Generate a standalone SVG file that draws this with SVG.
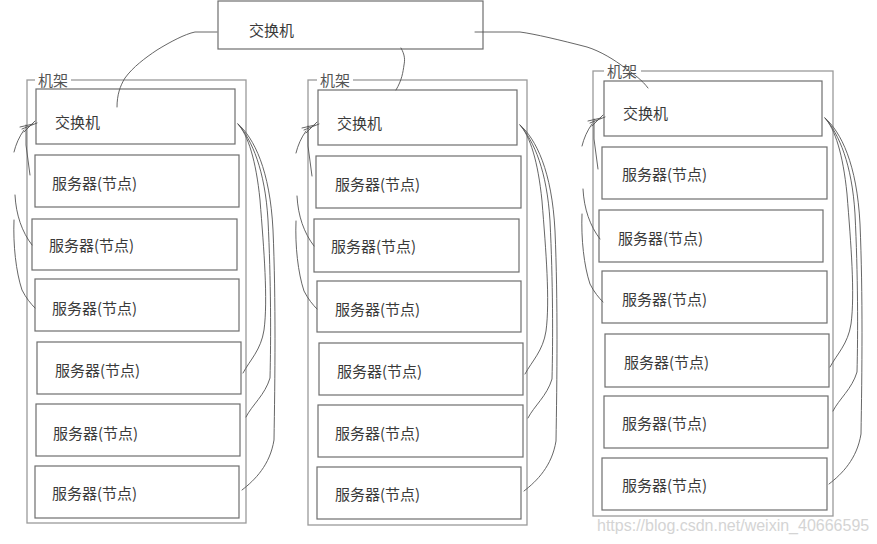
<svg xmlns="http://www.w3.org/2000/svg" width="877" height="544" viewBox="0 0 877 544">
<style>
.bg{fill:#fff}
.rack{fill:none;stroke:#9a9a9a;stroke-width:1.3}
.box{fill:#fff;stroke:#6e6e6e;stroke-width:1.2}
.t{font-family:"Noto Sans CJK SC","Noto Sans",sans-serif;font-size:15px;fill:#3a3a3a}
.lbl{font-family:"Noto Sans CJK SC","Noto Sans",sans-serif;font-size:15px;fill:#555}
.w{fill:none;stroke:#555;stroke-width:0.9;stroke-linecap:round}
.wm{font-family:"Liberation Sans",Arial,sans-serif;font-size:16px;fill:#d4d4d4}
</style>
<defs>
<g id="leftWires">
<path class="w" d="M37,123 L22,129 M35,121 L24,132 M33,124 L20,127"/>
<path class="w" d="M24,130 C19,137 16,144 14,152"/>
<path class="w" d="M26,125 L26,145 C27,155 29,165 30,175"/>
<path class="w" d="M15,195 C16,215 22,232 32,245"/>
<path class="w" d="M14,220 C13,245 16,272 22,290 C26,298 31,304 35,308"/>
</g>
<g id="rightWires">
<path class="w" d="M238,124 C248,135 256,160 260,200 C264,250 268,300 264,330 C261,350 250,360 243,373"/>
<path class="w" d="M238,124 C252,140 265,170 268,220 C271,280 271,340 270,378 C265,395 252,405 246,417"/>
<path class="w" d="M238,124 C254,138 270,170 273,230 C276,300 275,380 274,440 C270,465 255,480 242,490"/>
</g>
</defs>
<rect class="bg" x="0" y="0" width="877" height="544"/>

<g id="core-switch">
<rect class="box" x="218" y="1" width="265" height="48"/>
<text class="t" x="249" y="36">交换机</text>
</g>

<g id="rack1">
<rect class="rack" x="27" y="80" width="219" height="443"/>
<rect class="bg" x="35" y="72" width="36" height="16"/>
<text class="lbl" x="38" y="85.5">机架</text>
</g>
<g id="rack1-switch"><rect class="box" x="36" y="89" width="199" height="55"/><text class="t" x="55" y="127.5">交换机</text></g>
<g id="rack1-server1"><rect class="box" x="35" y="155" width="204" height="52"/><text class="t" x="52" y="188.5">服务器(节点)</text></g>
<g id="rack1-server2"><rect class="box" x="32" y="219" width="205" height="51"/><text class="t" x="49" y="250.5">服务器(节点)</text></g>
<g id="rack1-server3"><rect class="box" x="35" y="279" width="204" height="52"/><text class="t" x="52" y="313.5">服务器(节点)</text></g>
<g id="rack1-server4"><rect class="box" x="37" y="342" width="204" height="52"/><text class="t" x="55" y="375.5">服务器(节点)</text></g>
<g id="rack1-server5"><rect class="box" x="36" y="404" width="204" height="52"/><text class="t" x="53" y="438.5">服务器(节点)</text></g>
<g id="rack1-server6"><rect class="box" x="35" y="466" width="204" height="52"/><text class="t" x="52" y="498.5">服务器(节点)</text></g>

<g id="rack2">
<rect class="rack" x="308" y="80" width="219" height="445"/>
<rect class="bg" x="317" y="72" width="36" height="16"/>
<text class="lbl" x="320" y="85.5">机架</text>
</g>
<g id="rack2-switch"><rect class="box" x="318" y="90" width="199" height="55"/><text class="t" x="337" y="128.5">交换机</text></g>
<g id="rack2-server1"><rect class="box" x="316" y="156" width="205" height="52"/><text class="t" x="335" y="189.5">服务器(节点)</text></g>
<g id="rack2-server2"><rect class="box" x="314" y="219" width="205" height="53"/><text class="t" x="331" y="251.5">服务器(节点)</text></g>
<g id="rack2-server3"><rect class="box" x="317" y="281" width="204" height="51"/><text class="t" x="335" y="314.5">服务器(节点)</text></g>
<g id="rack2-server4"><rect class="box" x="319" y="343" width="204" height="52"/><text class="t" x="337" y="376.5">服务器(节点)</text></g>
<g id="rack2-server5"><rect class="box" x="318" y="405" width="205" height="52"/><text class="t" x="335" y="438.5">服务器(节点)</text></g>
<g id="rack2-server6"><rect class="box" x="317" y="467" width="204" height="52"/><text class="t" x="335" y="499.5">服务器(节点)</text></g>

<g id="rack3">
<rect class="rack" x="593" y="71" width="240" height="445"/>
<rect class="bg" x="604" y="63" width="37" height="16"/>
<text class="lbl" x="607" y="76.5">机架</text>
</g>
<g id="rack3-switch"><rect class="box" x="604" y="81" width="218" height="55"/><text class="t" x="623" y="118.5">交换机</text></g>
<g id="rack3-server1"><rect class="box" x="602" y="147" width="225" height="52"/><text class="t" x="622" y="179.5">服务器(节点)</text></g>
<g id="rack3-server2"><rect class="box" x="599" y="210" width="224" height="52"/><text class="t" x="618" y="243.5">服务器(节点)</text></g>
<g id="rack3-server3"><rect class="box" x="602" y="271" width="225" height="52"/><text class="t" x="622" y="304.5">服务器(节点)</text></g>
<g id="rack3-server4"><rect class="box" x="605" y="334" width="224" height="53"/><text class="t" x="624" y="367.5">服务器(节点)</text></g>
<g id="rack3-server5"><rect class="box" x="604" y="396" width="224" height="52"/><text class="t" x="622" y="428.5">服务器(节点)</text></g>
<g id="rack3-server6"><rect class="box" x="602" y="458" width="225" height="52"/><text class="t" x="622" y="490.5">服务器(节点)</text></g>

<g id="connectors">
<path class="w" d="M217,32 L195,32 C185,34 170,42 157,50 C145,58 133,67 125,78 C120,86 117,95 117,107"/>
<path class="w" d="M401,48 C405,55 405,60 404,65 C403,72 402,80 396,90"/>
<path class="w" d="M475,32 L520,32 C535,34 560,40 587,47 C600,51 615,60 625,68 C635,75 642,80 648,88"/>
<use href="#leftWires"/>
<use href="#rightWires"/>
<use href="#leftWires" transform="translate(282,1)"/>
<use href="#rightWires" transform="translate(282,1)"/>
<use href="#leftWires" transform="translate(568,-6)"/>
<use href="#rightWires" transform="translate(587,-6)"/>
</g>

<text class="wm" x="597" y="531">https://blog.csdn.net/weixin_40666595</text>
</svg>
